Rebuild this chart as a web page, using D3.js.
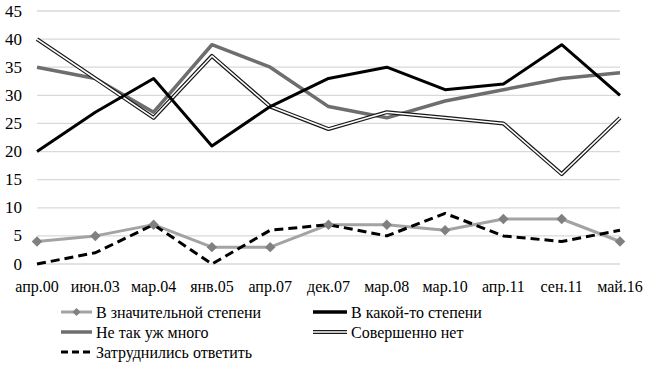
<!DOCTYPE html>
<html><head><meta charset="utf-8">
<script src="https://cdn.jsdelivr.net/npm/d3@7"></script>
<style>body{margin:0;background:#fff}</style>
</head><body>
<svg id="c" width="650" height="366" font-family="Liberation Serif"></svg>
<script>
const categories = ["апр.00","июн.03","мар.04","янв.05","апр.07","дек.07","мар.08","мар.10","апр.11","сен.11","май.16"];
const seriesNames = ["В значительной степени","В какой-то степени","Не так уж много","Совершенно нет","Затруднились ответить"];
const vZnach = [4,5,7,3,3,7,7,6,8,8,4];
const vKakoy = [20,27,33,21,28,33,35,31,32,39,30];
const vNeTak = [35,33,27,39,35,28,26,29,31,33,34];
const vSovsem = [40,33,26,37,28,24,27,26,25,16,26];
const vZatrud = [0,2,7,0,6,7,5,9,5,4,6];
const yTicks = [0,5,10,15,20,25,30,35,40,45];

const svg = d3.select("#c");
const x = d3.scalePoint().domain(categories).range([37,620]);
const y = d3.scaleLinear().domain([0,45]).range([264,11]);

svg.append("g").selectAll("line").data(yTicks).join("line")
  .attr("x1",37).attr("x2",620).attr("y1",d=>y(d)).attr("y2",d=>y(d))
  .attr("stroke","#d9d9d9").attr("stroke-width",1.3);

const line = d3.line().x((d,i)=>x(categories[i])).y(d=>y(d));
const g = svg.append("g").attr("fill","none").attr("stroke-linejoin","round");
g.append("path").attr("d",line(vNeTak)).attr("stroke","#6e6e6e").attr("stroke-width",3.5);
g.append("path").attr("d",line(vSovsem)).attr("stroke","#1a1a1a").attr("stroke-width",4);
g.append("path").attr("d",line(vSovsem)).attr("stroke","#fff").attr("stroke-width",1.6);
g.append("path").attr("d",line(vKakoy)).attr("stroke","#000").attr("stroke-width",3);
g.append("path").attr("d",line(vZnach)).attr("stroke","#a3a3a3").attr("stroke-width",3);
svg.append("g").selectAll("path").data(vZnach).join("path")
  .attr("transform",(d,i)=>`translate(${x(categories[i])},${y(d)})`)
  .attr("d",d3.symbol(d3.symbolDiamond2,70)).attr("fill","#808080");
g.append("path").attr("d",line(vZatrud)).attr("stroke","#000").attr("stroke-width",3).attr("stroke-dasharray","9,5");

// legend symbols
const legItems = [
  {name:seriesNames[0], lx:61, ly:312, type:"znach"},
  {name:seriesNames[1], lx:313, ly:312, type:"kakoy"},
  {name:seriesNames[2], lx:61, ly:332, type:"netak"},
  {name:seriesNames[3], lx:313, ly:332, type:"sovsem"},
  {name:seriesNames[4], lx:61, ly:352, type:"zatrud"}
];
legItems.forEach(it=>{
  const L = it.lx>300?34:31;
  it.L = L;
  const ln = ()=>svg.append("line").attr("x1",it.lx).attr("x2",it.lx+L).attr("y1",it.ly).attr("y2",it.ly);
  if(it.type==="znach"){ ln().attr("stroke","#a3a3a3").attr("stroke-width",3);
    svg.append("path").attr("transform",`translate(${it.lx+L/2},${it.ly})`).attr("d",d3.symbol(d3.symbolDiamond2,40)).attr("fill","#808080"); }
  if(it.type==="kakoy") ln().attr("stroke","#000").attr("stroke-width",3.5);
  if(it.type==="netak") ln().attr("stroke","#6e6e6e").attr("stroke-width",3.5);
  if(it.type==="sovsem"){ ln().attr("stroke","#1a1a1a").attr("stroke-width",4); ln().attr("stroke","#fff").attr("stroke-width",1.6); }
  if(it.type==="zatrud") ln().attr("stroke","#000").attr("stroke-width",3).attr("stroke-dasharray","7,4");
});

// all texts directly in the svg root
svg.selectAll("text.yl").data(yTicks).join("text").attr("class","yl")
  .attr("x",22).attr("y",d=>y(d)+5.5).attr("text-anchor","end")
  .attr("font-family","Liberation Serif").attr("font-size",17).attr("fill","#000").text(d=>d);
svg.selectAll("text.xl").data(categories).join("text").attr("class","xl")
  .attr("x",d=>x(d)).attr("y",292).attr("text-anchor","middle")
  .attr("font-family","Liberation Serif").attr("font-size",16).attr("fill","#000").text(d=>d);
svg.selectAll("text.lg").data(legItems).join("text").attr("class","lg")
  .attr("x",d=>d.lx+d.L+4).attr("y",d=>d.ly+5.5)
  .attr("font-family","Liberation Serif").attr("font-size",16).attr("fill","#000").text(d=>d.name);
</script>
</body></html>
